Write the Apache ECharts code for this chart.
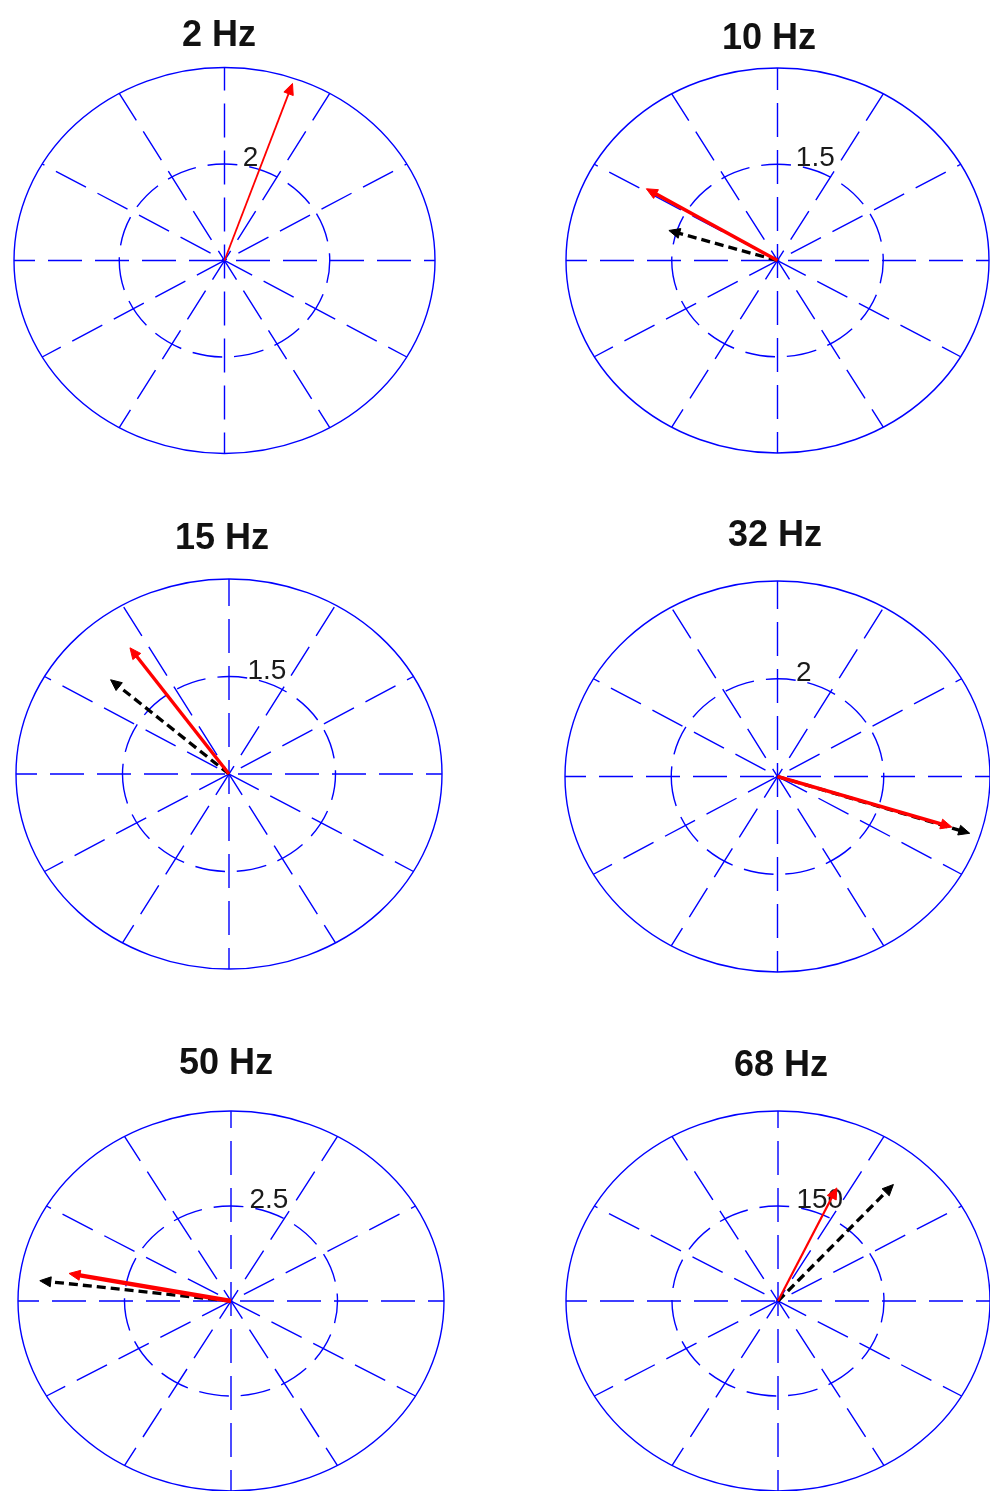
<!DOCTYPE html>
<html><head><meta charset="utf-8">
<script src="https://cdn.jsdelivr.net/npm/echarts@6/dist/echarts.min.js"></script>
<style>html,body{margin:0;padding:0;background:#fff}#c{width:990px;height:1491px}</style>
</head><body><div id="c"></div>
<script>
// ---------- data ----------
const titles = ['2 Hz', '10 Hz', '15 Hz', '32 Hz', '50 Hz', '68 Hz'];
const ringLabels = ['2', '1.5', '1.5', '2', '2.5', '150'];
const innerRing = [2, 1.5, 1.5, 2, 2.5, 150];
const outerRing = [4, 3, 3, 4, 5, 300];
const spokeAngles = [0, 30, 60, 90, 120, 150];
const redMagnitude = [3.89, 2.17, 2.39, 3.44, 3.87, 197];
const redAngle = [70.6, 149.0, 125.7, -17.5, 169.2, 65.0];
const blackMagnitude = [null, 1.61, 2.21, 3.80, 4.52, 246];
const blackAngle = [null, 163.1, 139.0, -17.8, 173.2, 48.4];

// ---------- layout / style ----------
const panels = [
  {cx: 224.5, cy: 260.5, rx: 210.5, ry: 193,   tx: 214,   ty: 33},
  {cx: 777.5, cy: 260.5, rx: 211.5, ry: 192.5, tx: 764,   ty: 36},
  {cx: 229,   cy: 774,   rx: 213,   ry: 195,   tx: 217,   ty: 536},
  {cx: 779,   cy: 776.5, rx: 214,   ry: 195.5, tx: 770,   ty: 533},
  {cx: 231,   cy: 1304,  rx: 213,   ry: 193,   tx: 221,   ty: 1061},
  {cx: 782,   cy: 1304,  rx: 216,   ry: 193,   tx: 776,   ty: 1063}
];
const redWidth = [1.8, 3.6, 3.4, 3.8, 4.4, 2.2];
const BLUE = '#0000ff';
const GRID_W = 1.4;
const D2R = Math.PI / 180;

function ellipsePath(c, rx, ry) {
  return 'M ' + (c[0] - rx) + ' ' + c[1] +
    ' A ' + rx + ' ' + ry + ' 0 1 0 ' + (c[0] + rx) + ' ' + c[1] +
    ' A ' + rx + ' ' + ry + ' 0 1 0 ' + (c[0] - rx) + ' ' + c[1] + ' Z';
}

function frameRender(i) {
  return function (params, api) {
    const c = api.coord([0, 0]);
    const so = api.size([outerRing[i], outerRing[i]]);
    const si = api.size([innerRing[i], innerRing[i]]);
    const children = [];
    children.push({type: 'path', shape: {pathData: ellipsePath(c, so[0], so[1])},
      style: {stroke: BLUE, lineWidth: GRID_W, fill: null}});
    children.push({type: 'path', shape: {pathData: ellipsePath(c, si[0], si[1])},
      style: {stroke: BLUE, lineWidth: GRID_W, fill: null, lineDash: [30, 12]}});
    spokeAngles.forEach(function (a) {
      const r = outerRing[i], t = a * D2R;
      const p1 = api.coord([-r * Math.cos(t), -r * Math.sin(t)]);
      const p2 = api.coord([r * Math.cos(t), r * Math.sin(t)]);
      children.push({type: 'line', shape: {x1: p1[0], y1: p1[1], x2: p2[0], y2: p2[1]},
        style: {stroke: BLUE, lineWidth: GRID_W, lineDash: [34, 13], lineDashOffset: 13}});
    });
    const t = 80 * D2R;
    const lp = api.coord([innerRing[i] * Math.cos(t), innerRing[i] * Math.sin(t)]);
    children.push({type: 'text', x: lp[0], y: lp[1] + 7, z2: 10,
      style: {text: ringLabels[i], fill: '#1a1a1a', font: '28px "Liberation Sans", Arial, sans-serif',
        align: 'left', verticalAlign: 'bottom'}});
    return {type: 'group', children: children};
  };
}

function arrowRender(color, width, dash, headL, headW) {
  return function (params, api) {
    const p0 = api.coord([0, 0]);
    const p1 = api.coord([api.value(0), api.value(1)]);
    const dx = p1[0] - p0[0], dy = p1[1] - p0[1];
    const len = Math.sqrt(dx * dx + dy * dy) || 1;
    const ux = dx / len, uy = dy / len, px = -uy, py = ux;
    const bx = p1[0] - ux * headL, by = p1[1] - uy * headL;
    const ex = p1[0] - ux * headL * 0.6, ey = p1[1] - uy * headL * 0.6;
    const lineStyle = {stroke: color, lineWidth: width, lineCap: 'butt'};
    if (dash) lineStyle.lineDash = dash;
    return {type: 'group', children: [
      {type: 'line', shape: {x1: p0[0], y1: p0[1], x2: ex, y2: ey}, style: lineStyle},
      {type: 'polygon', shape: {points: [[p1[0], p1[1]], [bx + px * headW, by + py * headW], [bx - px * headW, by - py * headW]]},
        style: {fill: color, stroke: color, lineWidth: 1}}
    ]};
  };
}

const grid = [], xAxis = [], yAxis = [], series = [], title = [];
panels.forEach(function (p, i) {
  grid.push({left: p.cx - p.rx, top: p.cy - p.ry, width: 2 * p.rx, height: 2 * p.ry, containLabel: false});
  xAxis.push({type: 'value', gridIndex: i, min: -outerRing[i], max: outerRing[i], show: false});
  yAxis.push({type: 'value', gridIndex: i, min: -outerRing[i], max: outerRing[i], show: false});
  title.push({text: titles[i], left: p.tx, top: p.ty - 20, textAlign: 'center',
    textStyle: {fontSize: 36, fontWeight: 'bold', color: '#111', fontFamily: '"Liberation Sans", Arial, sans-serif'}});
  series.push({type: 'custom', xAxisIndex: i, yAxisIndex: i, clip: false, silent: true,
    renderItem: frameRender(i), data: [[0, 0]], z: 1});
  if (blackMagnitude[i] != null) {
    const t = blackAngle[i] * D2R;
    series.push({type: 'custom', xAxisIndex: i, yAxisIndex: i, clip: false, silent: true, z: 2,
      renderItem: arrowRender('#000000', 3.3, [9, 5], 11, 5),
      data: [[blackMagnitude[i] * Math.cos(t), blackMagnitude[i] * Math.sin(t)]]});
  }
  const tr = redAngle[i] * D2R;
  series.push({type: 'custom', xAxisIndex: i, yAxisIndex: i, clip: false, silent: true, z: 3,
    renderItem: arrowRender('#ff0000', redWidth[i], null, 11, 5),
    data: [[redMagnitude[i] * Math.cos(tr), redMagnitude[i] * Math.sin(tr)]]});
});

const chart = echarts.init(document.getElementById('c'), null, {renderer: 'canvas'});
chart.setOption({animation: false, backgroundColor: '#ffffff', title: title, grid: grid,
  xAxis: xAxis, yAxis: yAxis, series: series});
</script></body></html>
